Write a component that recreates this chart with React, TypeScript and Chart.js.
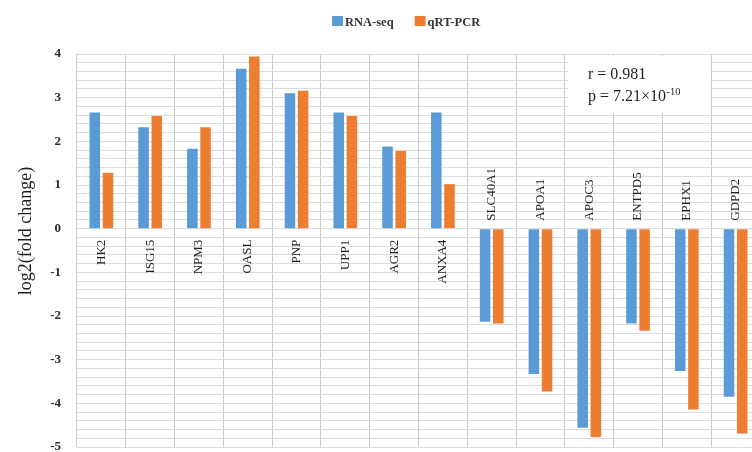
import React, { useEffect, useRef } from "react";
import { Chart, registerables } from "chart.js";

Chart.register(...registerables);

// Genes and their log2 fold changes measured by each method
const genes = [
  "HK2", "ISG15", "NPM3", "OASL", "PNP", "UPP1", "AGR2",
  "ANXA4", "SLC40A1", "APOA1", "APOC3", "ENTPD5", "EPHX1", "GDPD2",
];
const rnaSeq = [2.66, 2.32, 1.83, 3.66, 3.1, 2.66, 1.88, 2.66, -2.13, -3.33, -4.56, -2.17, -3.26, -3.85];
const qrtPcr = [1.28, 2.58, 2.32, 3.94, 3.16, 2.58, 1.78, 1.02, -2.17, -3.73, -4.77, -2.34, -4.14, -4.69];

const seriesNames = ["RNA-seq", "qRT-PCR"];
const seriesColors = ["#5b9bd5", "#ed7d31"];

const yMin = -5;
const yMax = 4;

const SERIF = '"Liberation Serif", "Times New Roman", serif';

// Draws the legend, axis title, gene names beside the zero line and the correlation note
const decorations = {
  id: "decorations",
  afterDraw(chart: any) {
    const ctx: CanvasRenderingContext2D = chart.ctx;
    const xs = chart.scales.x;
    const ys = chart.scales.y;
    const y0 = ys.getPixelForValue(0);

    // gene names, placed on the side of the zero line away from the bars
    ctx.save();
    ctx.font = `13px ${SERIF}`;
    ctx.fillStyle = "#1e1e1e";
    ctx.textBaseline = "middle";
    genes.forEach((g, i) => {
      const cx = xs.getPixelForValue(i);
      const up = rnaSeq[i] >= 0;
      ctx.save();
      ctx.translate(cx, up ? y0 + 11 : y0 - 8);
      ctx.rotate(-Math.PI / 2);
      ctx.textAlign = up ? "right" : "left";
      ctx.fillText(g, 0, 0);
      ctx.restore();
    });
    ctx.restore();

    // y axis title
    ctx.save();
    ctx.font = `18px ${SERIF}`;
    ctx.fillStyle = "#1e1e1e";
    ctx.textAlign = "center";
    ctx.textBaseline = "middle";
    ctx.translate(26, 231);
    ctx.rotate(-Math.PI / 2);
    ctx.fillText("log2(fold change)", 0, 0);
    ctx.restore();

    // legend
    ctx.save();
    ctx.font = `bold 12.5px ${SERIF}`;
    ctx.textBaseline = "alphabetic";
    ctx.textAlign = "left";
    let lx = 332;
    chart.data.datasets.forEach((ds: any) => {
      ctx.fillStyle = ds.backgroundColor;
      ctx.fillRect(lx, 16, 11, 10);
      ctx.fillStyle = "#333";
      ctx.fillText(ds.label, lx + 13, 25.5);
      lx += 13 + ctx.measureText(ds.label).width + 21;
    });
    ctx.restore();

    // correlation note
    ctx.save();
    ctx.fillStyle = "#fff";
    ctx.fillRect(568, 56, 142, 57);
    ctx.fillStyle = "#1e1e1e";
    ctx.font = `16px ${SERIF}`;
    ctx.textBaseline = "alphabetic";
    ctx.fillText("r = 0.981", 588, 79);
    const base = "p = 7.21\u00d710";
    ctx.fillText(base, 588, 101);
    const w = ctx.measureText(base).width;
    ctx.font = `10.5px ${SERIF}`;
    ctx.fillText("-10", 588 + w + 0.5, 95);
    ctx.restore();
  },
};

export default function App() {
  const ref = useRef<HTMLCanvasElement>(null);

  useEffect(() => {
    if (!ref.current) return;
    const chart = new Chart(ref.current, {
      type: "bar",
      data: {
        labels: genes,
        datasets: [
          { label: seriesNames[0], data: rnaSeq, backgroundColor: seriesColors[0] },
          { label: seriesNames[1], data: qrtPcr, backgroundColor: seriesColors[1] },
        ],
      },
      options: {
        responsive: false,
        animation: false,
        events: [],
        layout: { padding: { left: 0, top: 54, right: 10, bottom: 5 } },
        datasets: {
          bar: { categoryPercentage: 0.54, barPercentage: 0.8, borderWidth: 0 },
        },
        plugins: {
          legend: { display: false },
          tooltip: { enabled: false },
        },
        scales: {
          x: {
            grid: { color: "#cbcbcb", lineWidth: 1, drawTicks: false, offset: true },
            border: { display: false },
            ticks: { display: false },
          },
          y: {
            min: yMin,
            max: yMax,
            grid: { color: "#dcdcdc", lineWidth: 1, drawTicks: false },
            border: { display: false },
            ticks: {
              stepSize: 0.2,
              autoSkip: false,
              padding: 16,
              color: "#2a2a2a",
              font: { family: SERIF, size: 13, weight: "bold" },
              callback: (v: any) =>
                Math.abs(v - Math.round(v)) < 1e-6 ? String(Math.round(v)) : "",
            },
            afterFit: (scale: any) => {
              scale.width = 77;
              scale.paddingTop = 0;
              scale.paddingBottom = 0;
            },
          },
        },
      },
      plugins: [decorations],
    });
    return () => chart.destroy();
  }, []);

  return (
    <div
      style={{
        position: "fixed",
        left: 0,
        top: 0,
        width: 752,
        height: 452,
        overflow: "hidden",
        background: "#fff",
      }}
    >
      <canvas ref={ref} width={770} height={452} style={{ display: "block" }} />
    </div>
  );
}
